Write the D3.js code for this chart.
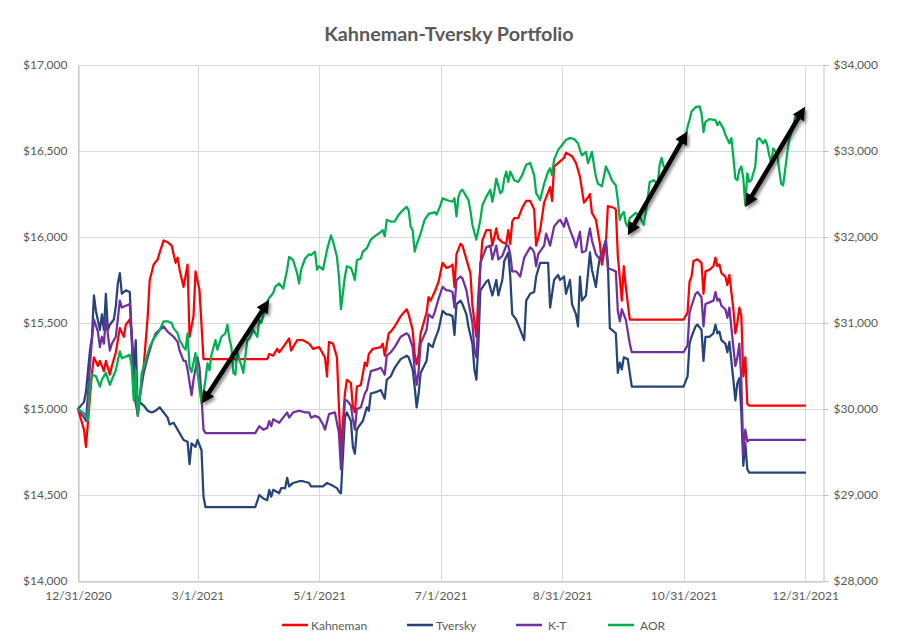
<!DOCTYPE html>
<html><head><meta charset="utf-8">
<script src="https://cdn.jsdelivr.net/npm/d3@7"></script>
<style>body{margin:0;background:#fff}svg{display:block}</style>
</head><body><svg id="chart" width="900" height="642"></svg>
<script>
const kahnemanDates = ["2020-12-31","2021-01-03","2021-01-04","2021-01-07","2021-01-08","2021-01-10","2021-01-11","2021-01-13","2021-01-14","2021-01-16","2021-01-17","2021-01-19","2021-01-21","2021-01-23","2021-01-24","2021-01-26","2021-01-27","2021-01-28","2021-01-30","2021-01-31","2021-02-02","2021-02-04","2021-02-05","2021-02-07","2021-02-09","2021-02-10","2021-02-12","2021-02-14","2021-02-16","2021-02-18","2021-02-19","2021-02-20","2021-02-22","2021-02-24","2021-02-25","2021-02-27","2021-02-28","2021-03-02","2021-03-04","2021-04-05","2021-04-06","2021-04-08","2021-04-10","2021-04-11","2021-04-13","2021-04-16","2021-04-17","2021-04-20","2021-04-23","2021-04-26","2021-04-28","2021-05-01","2021-05-02","2021-05-04","2021-05-05","2021-05-06","2021-05-08","2021-05-10","2021-05-11","2021-05-12","2021-05-14","2021-05-15","2021-05-17","2021-05-18","2021-05-19","2021-05-20","2021-05-22","2021-05-24","2021-05-25","2021-05-26","2021-05-28","2021-06-01","2021-06-02","2021-06-03","2021-06-05","2021-06-06","2021-06-08","2021-06-11","2021-06-14","2021-06-15","2021-06-17","2021-06-18","2021-06-19","2021-06-20","2021-06-21","2021-06-24","2021-06-25","2021-06-26","2021-06-28","2021-06-30","2021-07-02","2021-07-04","2021-07-06","2021-07-07","2021-07-08","2021-07-09","2021-07-11","2021-07-12","2021-07-14","2021-07-16","2021-07-17","2021-07-19","2021-07-20","2021-07-22","2021-07-24","2021-07-26","2021-07-27","2021-07-29","2021-07-30","2021-08-01","2021-08-03","2021-08-04","2021-08-05","2021-08-06","2021-08-07","2021-08-09","2021-08-11","2021-08-13","2021-08-15","2021-08-17","2021-08-18","2021-08-20","2021-08-22","2021-08-25","2021-08-26","2021-08-27","2021-08-29","2021-09-01","2021-09-02","2021-09-05","2021-09-07","2021-09-09","2021-09-11","2021-09-13","2021-09-14","2021-09-15","2021-09-17","2021-09-19","2021-09-20","2021-09-22","2021-09-23","2021-09-26","2021-09-27","2021-09-28","2021-09-30","2021-10-01","2021-10-02","2021-10-04","2021-10-31","2021-11-02","2021-11-03","2021-11-04","2021-11-05","2021-11-07","2021-11-09","2021-11-10","2021-11-11","2021-11-13","2021-11-15","2021-11-16","2021-11-17","2021-11-18","2021-11-19","2021-11-21","2021-11-22","2021-11-23","2021-11-25","2021-11-26","2021-11-27","2021-11-28","2021-11-29","2021-11-30","2021-12-01","2021-12-02","2021-12-03","2021-12-31"];
const kahnemanValues = [15000,14880,14780,15210,15300,15250,15280,15220,15280,15200,15250,15330,15470,15420,15490,15520,15440,15210,14960,15070,15250,15540,15750,15840,15870,15910,15980,15970,15950,15850,15880,15810,15710,15840,15420,15540,15800,15690,15290,15290,15320,15310,15350,15330,15360,15410,15340,15400,15400,15380,15350,15360,15340,15300,15190,15390,15380,15300,15010,14760,15090,15170,15150,15010,14980,15130,15140,15270,15250,15320,15350,15360,15380,15310,15440,15450,15480,15540,15580,15550,15460,15320,15260,15320,15440,15560,15650,15630,15680,15740,15850,15820,15830,15840,15710,15900,15960,15950,15870,15790,15600,15420,15670,15980,16040,16040,15950,16050,15990,15970,15960,16040,15960,16090,16110,16110,16170,16210,16210,16160,15950,16040,16200,16290,16210,16410,16430,16460,16490,16470,16430,16350,16200,16230,16250,16140,16100,15960,15840,15960,16180,16170,16160,15890,15630,15830,15710,15520,15520,15560,15740,15770,15860,15870,15850,15670,15800,15810,15830,15880,15830,15840,15790,15770,15720,15780,15580,15440,15500,15590,15540,15190,15300,15030,15020,15020];

const tverskyDates = ["2020-12-31","2021-01-03","2021-01-04","2021-01-06","2021-01-07","2021-01-08","2021-01-09","2021-01-11","2021-01-12","2021-01-13","2021-01-14","2021-01-15","2021-01-16","2021-01-18","2021-01-19","2021-01-20","2021-01-21","2021-01-22","2021-01-24","2021-01-26","2021-01-27","2021-01-28","2021-01-29","2021-01-30","2021-01-31","2021-02-02","2021-02-04","2021-02-06","2021-02-08","2021-02-10","2021-02-12","2021-02-14","2021-02-15","2021-02-17","2021-02-19","2021-02-21","2021-02-22","2021-02-24","2021-02-25","2021-02-26","2021-02-28","2021-03-01","2021-03-03","2021-03-04","2021-03-05","2021-03-30","2021-04-01","2021-04-03","2021-04-05","2021-04-06","2021-04-07","2021-04-08","2021-04-11","2021-04-12","2021-04-14","2021-04-15","2021-04-16","2021-04-18","2021-04-21","2021-04-23","2021-04-26","2021-04-27","2021-04-29","2021-05-01","2021-05-03","2021-05-05","2021-05-07","2021-05-10","2021-05-11","2021-05-12","2021-05-14","2021-05-15","2021-05-17","2021-05-18","2021-05-19","2021-05-20","2021-05-21","2021-05-23","2021-05-25","2021-05-26","2021-05-27","2021-05-30","2021-06-01","2021-06-03","2021-06-04","2021-06-06","2021-06-08","2021-06-11","2021-06-14","2021-06-15","2021-06-17","2021-06-18","2021-06-19","2021-06-20","2021-06-21","2021-06-24","2021-06-25","2021-06-27","2021-06-28","2021-06-30","2021-07-02","2021-07-04","2021-07-05","2021-07-07","2021-07-08","2021-07-09","2021-07-11","2021-07-12","2021-07-14","2021-07-15","2021-07-17","2021-07-18","2021-07-19","2021-07-20","2021-07-21","2021-07-24","2021-07-25","2021-07-27","2021-07-29","2021-07-30","2021-08-01","2021-08-02","2021-08-04","2021-08-05","2021-08-06","2021-08-08","2021-08-10","2021-08-12","2021-08-13","2021-08-15","2021-08-17","2021-08-18","2021-08-20","2021-08-22","2021-08-24","2021-08-25","2021-08-27","2021-08-29","2021-08-30","2021-09-01","2021-09-02","2021-09-04","2021-09-05","2021-09-07","2021-09-08","2021-09-09","2021-09-10","2021-09-12","2021-09-14","2021-09-15","2021-09-17","2021-09-18","2021-09-19","2021-09-20","2021-09-22","2021-09-23","2021-09-24","2021-09-25","2021-09-27","2021-09-28","2021-09-29","2021-09-30","2021-10-01","2021-10-03","2021-10-05","2021-10-31","2021-11-02","2021-11-03","2021-11-04","2021-11-06","2021-11-07","2021-11-09","2021-11-10","2021-11-11","2021-11-13","2021-11-15","2021-11-16","2021-11-17","2021-11-18","2021-11-19","2021-11-21","2021-11-22","2021-11-23","2021-11-25","2021-11-26","2021-11-27","2021-11-28","2021-11-29","2021-11-30","2021-12-01","2021-12-02","2021-12-03","2021-12-31"];
const tverskyValues = [15000,15040,15100,15340,15420,15660,15570,15460,15550,15460,15670,15460,15490,15520,15600,15730,15790,15670,15690,15680,15420,15210,15400,14990,15040,15020,14990,14980,14990,15010,14980,14950,14910,14920,14880,14840,14820,14810,14680,14800,14780,14820,14760,14490,14430,14430,14500,14480,14470,14530,14490,14530,14510,14540,14540,14600,14550,14570,14580,14580,14570,14550,14550,14550,14550,14570,14560,14540,14520,14510,14950,14980,14930,14780,14740,14880,14900,14930,15010,14990,15090,15100,15110,15060,15170,15190,15240,15290,15310,15300,15230,15130,15010,15090,15210,15280,15380,15360,15400,15460,15570,15550,15550,15540,15430,15610,15630,15610,15550,15480,15380,15230,15170,15380,15690,15740,15750,15660,15750,15660,15750,15860,15910,15770,15550,15520,15460,15400,15630,15670,15680,15770,15850,15850,15850,15590,15750,15780,15750,15770,15670,15750,15610,15550,15480,15770,15630,15660,15910,15810,15710,15810,15880,15900,15980,15850,15470,15460,15440,15210,15270,15230,15300,15290,15130,15130,15190,15380,15420,15480,15490,15460,15280,15420,15420,15440,15490,15440,15450,15400,15380,15330,15390,15170,15050,15150,15180,14980,14670,14800,14650,14630,14630];

const ktDates = ["2020-12-31","2021-01-03","2021-01-04","2021-01-06","2021-01-07","2021-01-08","2021-01-10","2021-01-11","2021-01-12","2021-01-13","2021-01-14","2021-01-16","2021-01-17","2021-01-19","2021-01-21","2021-01-22","2021-01-24","2021-01-26","2021-01-27","2021-01-28","2021-01-30","2021-01-31","2021-02-02","2021-02-04","2021-02-06","2021-02-08","2021-02-10","2021-02-12","2021-02-14","2021-02-16","2021-02-17","2021-02-19","2021-02-20","2021-02-22","2021-02-23","2021-02-24","2021-02-26","2021-02-27","2021-03-01","2021-03-02","2021-03-03","2021-03-04","2021-03-05","2021-03-30","2021-04-01","2021-04-03","2021-04-05","2021-04-06","2021-04-07","2021-04-08","2021-04-11","2021-04-13","2021-04-15","2021-04-16","2021-04-18","2021-04-21","2021-04-24","2021-04-26","2021-04-27","2021-04-29","2021-05-01","2021-05-03","2021-05-04","2021-05-06","2021-05-09","2021-05-10","2021-05-11","2021-05-12","2021-05-14","2021-05-15","2021-05-17","2021-05-18","2021-05-19","2021-05-20","2021-05-22","2021-05-24","2021-05-25","2021-05-27","2021-05-30","2021-06-01","2021-06-03","2021-06-04","2021-06-06","2021-06-08","2021-06-11","2021-06-14","2021-06-15","2021-06-17","2021-06-18","2021-06-19","2021-06-20","2021-06-21","2021-06-24","2021-06-25","2021-06-27","2021-06-28","2021-06-30","2021-07-02","2021-07-04","2021-07-05","2021-07-07","2021-07-08","2021-07-09","2021-07-11","2021-07-12","2021-07-14","2021-07-15","2021-07-17","2021-07-18","2021-07-19","2021-07-20","2021-07-21","2021-07-24","2021-07-26","2021-07-27","2021-07-29","2021-07-30","2021-08-01","2021-08-03","2021-08-04","2021-08-05","2021-08-06","2021-08-08","2021-08-10","2021-08-12","2021-08-15","2021-08-16","2021-08-17","2021-08-18","2021-08-19","2021-08-22","2021-08-23","2021-08-25","2021-08-27","2021-08-29","2021-08-30","2021-09-01","2021-09-02","2021-09-04","2021-09-06","2021-09-07","2021-09-09","2021-09-10","2021-09-12","2021-09-13","2021-09-14","2021-09-15","2021-09-17","2021-09-19","2021-09-20","2021-09-22","2021-09-23","2021-09-25","2021-09-27","2021-09-28","2021-09-29","2021-09-30","2021-10-02","2021-10-04","2021-10-05","2021-10-31","2021-11-02","2021-11-03","2021-11-04","2021-11-06","2021-11-07","2021-11-09","2021-11-10","2021-11-11","2021-11-13","2021-11-15","2021-11-16","2021-11-17","2021-11-18","2021-11-19","2021-11-21","2021-11-22","2021-11-23","2021-11-25","2021-11-26","2021-11-27","2021-11-28","2021-11-29","2021-11-30","2021-12-01","2021-12-02","2021-12-03","2021-12-31"];
const ktValues = [15000,14950,14930,15250,15400,15520,15450,15360,15420,15380,15530,15340,15380,15420,15630,15590,15600,15610,15400,15090,14970,15070,15210,15300,15380,15440,15460,15480,15450,15430,15420,15390,15340,15280,15280,15230,15080,15170,15300,15240,15070,14880,14860,14860,14900,14880,14890,14930,14900,14940,14920,14950,14980,14950,14980,14990,14980,14980,14950,14960,14950,14910,14880,14970,14980,14920,14860,14650,15050,15050,15020,14940,14880,15000,15010,15090,15110,15220,15230,15240,15200,15310,15330,15360,15420,15440,15430,15360,15230,15140,15220,15380,15460,15550,15530,15560,15640,15710,15690,15690,15680,15590,15750,15770,15760,15690,15620,15500,15340,15300,15520,15850,15940,15950,15870,15950,15870,15890,15950,15950,15900,15800,15800,15770,15880,15940,15930,15910,15830,15900,15950,16020,15950,16060,16090,16100,16060,16110,16040,15980,15940,16030,15910,15920,15990,16050,15980,15900,15870,15910,15980,15820,15810,15800,15570,15510,15580,15520,15380,15330,15330,15370,15560,15600,15670,15680,15650,15480,15610,15620,15630,15680,15630,15640,15600,15580,15530,15590,15360,15250,15300,15380,15170,14730,14880,14810,14820,14820];

const aorDates = ["2020-12-31","2021-01-03","2021-01-05","2021-01-06","2021-01-07","2021-01-09","2021-01-11","2021-01-12","2021-01-14","2021-01-16","2021-01-17","2021-01-19","2021-01-21","2021-01-22","2021-01-24","2021-01-26","2021-01-27","2021-01-28","2021-01-29","2021-01-30","2021-01-31","2021-02-01","2021-02-03","2021-02-05","2021-02-07","2021-02-09","2021-02-10","2021-02-12","2021-02-14","2021-02-16","2021-02-17","2021-02-19","2021-02-20","2021-02-22","2021-02-23","2021-02-24","2021-02-25","2021-02-26","2021-02-28","2021-03-01","2021-03-03","2021-03-04","2021-03-05","2021-03-06","2021-03-07","2021-03-08","2021-03-10","2021-03-11","2021-03-13","2021-03-15","2021-03-16","2021-03-17","2021-03-18","2021-03-19","2021-03-20","2021-03-21","2021-03-22","2021-03-23","2021-03-24","2021-03-26","2021-03-27","2021-03-29","2021-03-31","2021-04-01","2021-04-02","2021-04-05","2021-04-06","2021-04-08","2021-04-09","2021-04-11","2021-04-13","2021-04-15","2021-04-16","2021-04-18","2021-04-20","2021-04-21","2021-04-22","2021-04-24","2021-04-26","2021-04-27","2021-04-29","2021-04-30","2021-05-01","2021-05-03","2021-05-05","2021-05-07","2021-05-08","2021-05-10","2021-05-11","2021-05-12","2021-05-14","2021-05-15","2021-05-17","2021-05-18","2021-05-19","2021-05-20","2021-05-22","2021-05-23","2021-05-25","2021-05-27","2021-05-29","2021-05-31","2021-06-02","2021-06-03","2021-06-04","2021-06-06","2021-06-08","2021-06-10","2021-06-12","2021-06-14","2021-06-15","2021-06-16","2021-06-17","2021-06-18","2021-06-19","2021-06-21","2021-06-23","2021-06-25","2021-06-27","2021-06-28","2021-06-29","2021-07-01","2021-07-02","2021-07-04","2021-07-07","2021-07-08","2021-07-09","2021-07-10","2021-07-11","2021-07-12","2021-07-14","2021-07-15","2021-07-16","2021-07-17","2021-07-19","2021-07-21","2021-07-22","2021-07-24","2021-07-26","2021-07-27","2021-07-28","2021-07-29","2021-07-31","2021-08-01","2021-08-02","2021-08-03","2021-08-04","2021-08-05","2021-08-07","2021-08-09","2021-08-11","2021-08-13","2021-08-15","2021-08-17","2021-08-18","2021-08-20","2021-08-22","2021-08-24","2021-08-25","2021-08-26","2021-08-27","2021-08-29","2021-08-31","2021-09-02","2021-09-04","2021-09-06","2021-09-08","2021-09-09","2021-09-10","2021-09-12","2021-09-13","2021-09-14","2021-09-15","2021-09-16","2021-09-17","2021-09-18","2021-09-20","2021-09-21","2021-09-22","2021-09-24","2021-09-25","2021-09-27","2021-09-28","2021-09-29","2021-09-30","2021-10-01","2021-10-02","2021-10-03","2021-10-04","2021-10-07","2021-10-09","2021-10-11","2021-10-12","2021-10-13","2021-10-14","2021-10-16","2021-10-18","2021-10-19","2021-10-20","2021-10-21","2021-10-23","2021-10-24","2021-10-26","2021-10-28","2021-10-30","2021-11-01","2021-11-02","2021-11-03","2021-11-04","2021-11-06","2021-11-08","2021-11-09","2021-11-10","2021-11-11","2021-11-13","2021-11-16","2021-11-17","2021-11-18","2021-11-20","2021-11-21","2021-11-23","2021-11-24","2021-11-25","2021-11-26","2021-11-27","2021-11-28","2021-11-29","2021-11-30","2021-12-01","2021-12-02","2021-12-03","2021-12-04","2021-12-06","2021-12-07","2021-12-08","2021-12-10","2021-12-11","2021-12-12","2021-12-13","2021-12-14","2021-12-15","2021-12-17","2021-12-18","2021-12-19","2021-12-20","2021-12-21","2021-12-22","2021-12-23","2021-12-25","2021-12-26","2021-12-27"];
const aorValues = [30000,29950,29870,30260,30400,30380,30260,30340,30420,30280,30340,30450,30670,30590,30610,30630,30490,30100,30450,29930,30100,30420,30570,30720,30820,30880,30920,31020,31020,31000,30940,30880,30800,30720,30690,30880,30490,30430,30650,30420,30070,30180,30340,30530,30450,30630,30800,30690,30840,30880,30980,30820,30720,30420,30400,30670,30570,30510,30420,30800,30820,30920,30840,31030,31000,31250,31290,31350,31420,31460,31400,31620,31770,31730,31580,31460,31620,31750,31800,31790,31830,31620,31660,31620,31850,32020,31950,31770,31540,31160,31540,31660,31640,31580,31500,31730,31750,31830,31870,31970,32010,32040,32080,32010,32200,32180,32180,32260,32310,32350,32310,32120,32080,31830,31910,32040,32200,32270,32280,32290,32260,32370,32450,32430,32410,32450,32240,32470,32530,32550,32470,32430,32310,32140,31970,32200,32370,32470,32550,32410,32530,32680,32510,32530,32680,32760,32640,32760,32660,32640,32720,32840,32860,32720,32510,32430,32620,32760,32800,32720,32900,33010,33070,33130,33150,33140,33090,33010,32950,32990,32860,32920,32990,32840,32700,32620,32590,32700,32820,32720,32660,32600,32430,32200,32260,32290,32160,32120,32220,32280,32240,32140,32280,32450,32640,32660,32620,32840,32920,32820,32800,32880,32950,33050,33090,33170,33280,33360,33460,33510,33520,33440,33220,33340,33370,33360,33300,33340,33260,33190,33090,33150,32930,32680,32660,32780,32820,32680,32370,32740,32640,32660,32820,33130,33150,33090,33130,33070,32950,32860,33030,32970,32780,32620,32600,32780,32970,33130,33280,33400,33420];

const seriesNames = ["Kahneman", "Tversky", "K-T", "AOR"];
const seriesColors = ["#FF0000", "#264478", "#7030A0", "#00B050"];
const xTickDates = ["2020-12-31","2021-03-01","2021-05-01","2021-07-01","2021-08-31","2021-10-31","2021-12-31"];
const xTickLabels = ["12/31/2020","3/1/2021","5/1/2021","7/1/2021","8/31/2021","10/31/2021","12/31/2021"];
const leftTicks = [14000,14500,15000,15500,16000,16500,17000];
const rightTicks = [28000,29000,30000,31000,32000,33000,34000];
const arrowFromDates = ["2021-03-03","2021-10-03","2021-12-01"];
const arrowFromAor = [30060,32020,32350];
const arrowToDates = ["2021-04-06","2021-11-02","2021-12-31"];
const arrowToAor = [31270,33230,33515];

const parse = d3.timeParse("%Y-%m-%d");
const svg = d3.select("#chart");
const L = 78, R = 823, T = 65, B = 581;
const font = "Lato, 'Open Sans', sans-serif";
const textColor = "#595959";

svg.append("rect").attr("width",900).attr("height",642).attr("fill","#fff");

const x = d3.scaleTime().domain([parse("2020-12-31"), parse("2022-01-09")]).range([L, R]);
const yL = d3.scaleLinear().domain([14000,17000]).range([B, T]);
const yR = d3.scaleLinear().domain([28000,34000]).range([B, T]);

// gridlines
const grid = svg.append("g").attr("stroke","#D9D9D9").attr("stroke-width",1);
leftTicks.forEach(v => grid.append("line").attr("x1",L).attr("x2",R).attr("y1",Math.round(yL(v))+0.5).attr("y2",Math.round(yL(v))+0.5));
xTickDates.forEach(d => { const xx = Math.round(x(parse(d)))+0.5; grid.append("line").attr("x1",xx).attr("x2",xx).attr("y1",T).attr("y2",B); });

// axes
const fmt = d3.format("$,");
const leftAxis = d3.axisLeft(yL).tickValues(leftTicks).tickFormat(fmt).tickSize(0).tickPadding(11);
const rightAxis = d3.axisRight(yR).tickValues(rightTicks).tickFormat(fmt).tickSize(5).tickPadding(5);
const bottomAxis = d3.axisBottom(x).tickValues(xTickDates.map(parse)).tickFormat((d,i)=>xTickLabels[i]).tickSize(0).tickPadding(10);

function styleAxis(g){
  g.select(".domain").attr("stroke","#BFBFBF");
  g.selectAll(".tick line").attr("stroke","#BFBFBF");
  g.selectAll("text").attr("fill",textColor).style("font-family",font).style("font-size","12px");
}
svg.append("g").attr("transform",`translate(${L+0.5},0)`).call(leftAxis).call(styleAxis);
svg.append("g").attr("transform",`translate(${R+0.5},0)`).call(rightAxis).call(styleAxis);
svg.append("g").attr("transform",`translate(0,${B+0.5})`).call(bottomAxis).call(styleAxis);

// lines
const lineL = d3.line().x(d=>x(d[0])).y(d=>yL(d[1]));
const lineR = d3.line().x(d=>x(d[0])).y(d=>yR(d[1]));
const series = [
  {dates:kahnemanDates, values:kahnemanValues, gen:lineL},
  {dates:tverskyDates, values:tverskyValues, gen:lineL},
  {dates:ktDates, values:ktValues, gen:lineL},
  {dates:aorDates, values:aorValues, gen:lineR}
];
const plot = svg.append("g");
series.forEach((s,i) => {
  const pts = s.dates.map((d,j)=>[parse(d), s.values[j]]);
  plot.append("path").attr("d", s.gen(pts)).attr("fill","none")
    .attr("stroke", seriesColors[i]).attr("stroke-width",2.25)
    .attr("stroke-linejoin","round").attr("stroke-linecap","round");
});

// arrows
const defs = svg.append("defs");
const f = defs.append("filter").attr("id","shadow").attr("x","-20%").attr("y","-20%").attr("width","140%").attr("height","140%");
f.append("feDropShadow").attr("dx",2).attr("dy",2.5).attr("stdDeviation",1.6).attr("flood-color","#000").attr("flood-opacity",0.45);
const ag = svg.append("g").attr("filter","url(#shadow)");
arrowFromDates.forEach((d,i) => {
  const x1 = x(parse(d)), y1 = yR(arrowFromAor[i]);
  const x2 = x(parse(arrowToDates[i])), y2 = yR(arrowToAor[i]);
  const dx = x2-x1, dy = y2-y1, len = Math.hypot(dx,dy);
  const ux = dx/len, uy = dy/len, px = -uy, py = ux;
  const hl = 13, hw = 6.5;
  ag.append("line").attr("x1",x1+ux*hl*0.7).attr("y1",y1+uy*hl*0.7).attr("x2",x2-ux*hl*0.7).attr("y2",y2-uy*hl*0.7)
    .attr("stroke","#000").attr("stroke-width",4.5);
  const head = (tx,ty,sx,sy) => {
    const bx = tx - sx*hl, by = ty - sy*hl;
    return `M${tx},${ty}L${bx+px*hw},${by+py*hw}L${bx-px*hw},${by-py*hw}Z`;
  };
  ag.append("path").attr("d", head(x2,y2,ux,uy)).attr("fill","#000");
  ag.append("path").attr("d", head(x1,y1,-ux,-uy)).attr("fill","#000");
});

// title
svg.append("text").attr("x",449).attr("y",41).attr("text-anchor","middle")
  .style("font-family",font).style("font-size","19.8px").style("font-weight","bold")
  .attr("fill",textColor).text("Kahneman-Tversky Portfolio");

// legend
const legendX = [282, 407, 516, 608];
const lg = svg.append("g");
seriesNames.forEach((n,i) => {
  lg.append("line").attr("x1",legendX[i]).attr("x2",legendX[i]+26).attr("y1",625).attr("y2",625)
    .attr("stroke",seriesColors[i]).attr("stroke-width",2.5);
  lg.append("text").attr("x",legendX[i]+29 + (i>=2?3:0)).attr("y",629.5)
    .style("font-family",font).style("font-size","12px").attr("fill",textColor).text(n);
});
</script>
</body></html>
